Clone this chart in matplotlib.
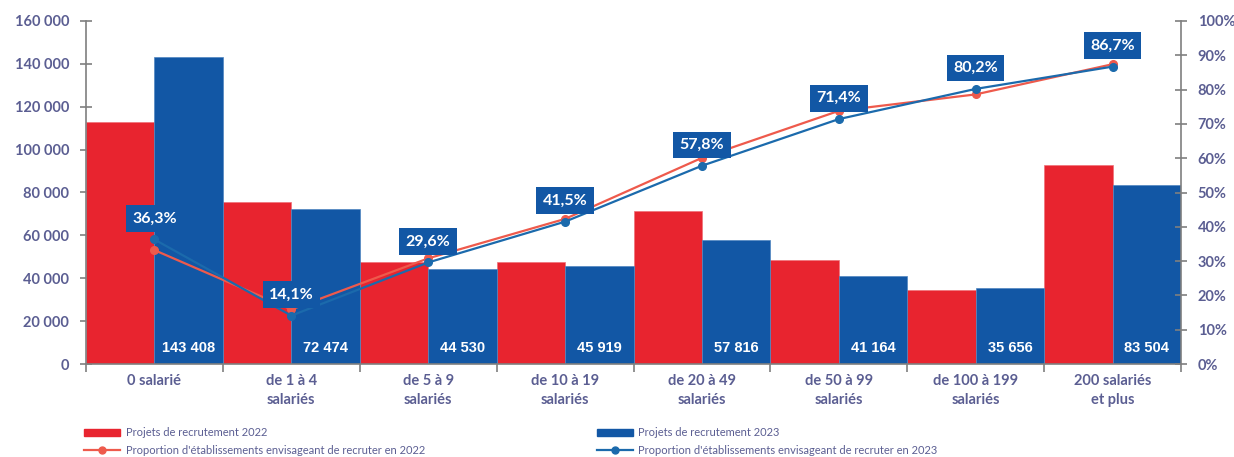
import matplotlib.pyplot as plt
from matplotlib.patches import Patch
from matplotlib.lines import Line2D
import numpy as np

categories = ['0 salarié', 'de 1 à 4\nsalariés', 'de 5 à 9\nsalariés', 'de 10 à 19\nsalariés',
              'de 20 à 49\nsalariés', 'de 50 à 99\nsalariés', 'de 100 à 199\nsalariés',
              '200 salariés\net plus']
projets_2022 = [113000, 75700, 47400, 47700, 71400, 48400, 34500, 92800]
projets_2023 = [143408, 72474, 44530, 45919, 57816, 41164, 35656, 83504]
prop_2022 = [33.2, 15.9, 30.8, 42.3, 60.1, 73.8, 78.6, 87.4]
prop_2023 = [36.3, 14.1, 29.6, 41.5, 57.8, 71.4, 80.2, 86.7]

red = '#E8242F'
blue = '#1257A5'
line_red = '#EE5A4C'
line_blue = '#1B6AAC'
txt = '#5B5E92'
axc = '#7F7F7F'

plt.rcParams['font.family'] = ['Lato', 'DejaVu Sans']

fig = plt.figure(figsize=(12.34, 4.57), dpi=100)
ax = fig.add_axes([86 / 1234, 1 - 364 / 457, (1181 - 86) / 1234, (364 - 21) / 457])
ax2 = ax.twinx()

x = np.arange(len(categories))
w = 0.5
ax.bar(x - w / 2, projets_2022, width=w, color=red, edgecolor='#f07078', linewidth=0.5, zorder=2)
ax.bar(x + w / 2, projets_2023, width=w, color=blue, edgecolor='#4f86c0', linewidth=0.5, zorder=2)

def fmt(v):
    return f'{v:,}'.replace(',', ' ')

for xi, v in zip(x, projets_2023):
    ax.text(xi + w / 2, 7500, fmt(v), color='white', fontsize=10.5, fontweight='bold',
            family='Liberation Sans', ha='center', va='center', zorder=3)

ax.set_xlim(-0.5, len(categories) - 0.5)
ax.set_ylim(0, 160000)
yt = np.arange(0, 160001, 20000)
ax.set_yticks(yt)
ax.set_yticklabels([fmt(int(v)) for v in yt])
ax.set_xticks(x)
ax.set_xticklabels(categories, linespacing=1.45)
ax.set_xticks(np.arange(-0.5, len(categories)), minor=True)
ax.tick_params(axis='x', which='major', length=0, pad=7, labelsize=10.5, labelcolor=txt)
ax.tick_params(axis='x', which='minor', length=6, color=axc, width=1.2, direction='out')
ax.tick_params(axis='y', length=8, direction='inout', color=axc, width=1.2, labelsize=10.5,
               labelcolor=txt, pad=8)
for lab in ax.get_xticklabels() + ax.get_yticklabels():
    lab.set_fontweight('bold')

for s in ['top', 'right']:
    ax.spines[s].set_visible(False)
for s in ['left', 'bottom']:
    ax.spines[s].set_color(axc)
    ax.spines[s].set_linewidth(1.2)

ax2.plot(x, prop_2022, color=line_red, lw=1.6, marker='o', ms=5.5, zorder=3)
ax2.plot(x, prop_2023, color=line_blue, lw=1.6, marker='o', ms=5.5, zorder=4)
for xi, v in zip(x, prop_2023):
    ax2.annotate(f'{v:.1f}%'.replace('.', ','), (xi, v), xytext=(0, 15), textcoords='offset points',
                 ha='center', va='center', color='white', fontsize=11.5, fontweight='bold',
                 bbox=dict(boxstyle='square,pad=0.4', fc=blue, ec='none'), zorder=5)
ax2.set_ylim(0, 100)
ax2.set_yticks(np.arange(0, 101, 10))
ax2.set_yticklabels([f'{v}%' for v in range(0, 101, 10)])
ax2.tick_params(axis='y', length=8, direction='inout', color=axc, width=1.2, labelsize=10.5,
                labelcolor=txt, pad=8)
for lab in ax2.get_yticklabels():
    lab.set_fontweight('bold')
for s in ['top', 'left', 'bottom']:
    ax2.spines[s].set_visible(False)
ax2.spines['right'].set_color(axc)
ax2.spines['right'].set_linewidth(1.2)

handles = [Patch(color=red), Line2D([], [], color=line_red, marker='o', ms=5, lw=1.6),
           Patch(color=blue), Line2D([], [], color=line_blue, marker='o', ms=5, lw=1.6)]
labels = ['Projets de recrutement 2022', "Proportion d'établissements envisageant de recruter en 2022",
          'Projets de recrutement 2023', "Proportion d'établissements envisageant de recruter en 2023"]
leg = fig.legend(handles, labels, ncol=2, loc='upper left', bbox_to_anchor=(80 / 1234, 1 - 423 / 457),
                 frameon=False, fontsize=8, handlelength=3.2, handleheight=0.7, handletextpad=0.5,
                 columnspacing=15.5, labelspacing=0.6, borderaxespad=0)
for t in leg.get_texts():
    t.set_color(txt)

fig.savefig('out.png', dpi=100)
